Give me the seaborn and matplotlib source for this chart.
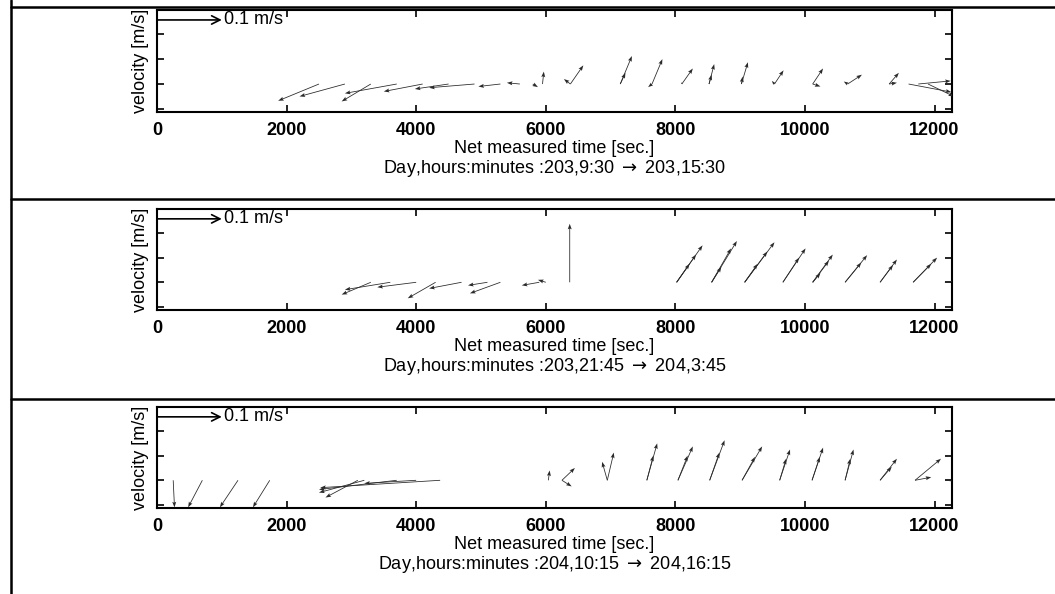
import matplotlib
matplotlib.use("Agg")
import matplotlib.pyplot as plt
from matplotlib.lines import Line2D
import numpy as np
import seaborn as sns

# ---------------- data ----------------
x_ticks = [0, 2000, 4000, 6000, 8000, 10000, 12000]
x_label = "Net measured time [sec.]"
y_label = "velocity [m/s]"
date_ranges = [
    "Day,hours:minutes :203,9:30$\\;\\rightarrow\\;$203,15:30",
    "Day,hours:minutes :203,21:45$\\;\\rightarrow\\;$204,3:45",
    "Day,hours:minutes :204,10:15$\\;\\rightarrow\\;$204,16:15",
]
ref_speed = 0.1          # m/s
ref_label = "0.1 m/s"

# panel 1 : base time [s], u (east) [m/s], v (north) [m/s]
p1_t = [2500, 2900, 3300, 3700, 4100, 4500, 4900, 5300, 5600, 5800, 5950,
        6380, 6380, 7150, 7150, 7640, 7640, 8100, 8100, 8520, 8520,
        9020, 9020, 9530, 9530, 10120, 10120, 10660, 10660, 11300, 11300,
        11600, 11750, 11900]
p1_u = [-0.063, -0.070, -0.045, -0.080, -0.060, -0.052, -0.070, -0.034, -0.020, 0.008, 0.002,
        0.020, -0.010, 0.018, 0.008, 0.016, -0.006, 0.017, 0.000, 0.008, 0.004,
        0.010, 0.002, 0.014, -0.004, 0.016, 0.012, 0.022, -0.006, 0.015, 0.012,
        0.066, 0.050, 0.040]
p1_v = [-0.027, -0.020, -0.028, -0.015, -0.012, -0.008, -0.006, -0.004, 0.002, -0.005, 0.020,
        0.030, 0.008, 0.045, 0.018, 0.040, -0.005, 0.025, 0.003, 0.032, 0.015,
        0.035, 0.012, 0.022, 0.005, 0.025, -0.004, 0.015, 0.004, 0.018, 0.002,
        -0.013, 0.005, -0.020]

# panel 2
p2_t = [3300, 3600, 4000, 4300, 4700, 5100, 5300, 5900, 6000, 6370,
        8020, 8020, 8020, 8560, 8560, 8560, 9070, 9070, 9070, 9660, 9660,
        10120, 10120, 10120, 10620, 10620, 11160, 11160, 11670, 11670, 12160]
p2_u = [-0.045, -0.070, -0.060, -0.043, -0.050, -0.030, -0.047, -0.027, -0.012, 0.000,
        0.040, 0.030, 0.020, 0.039, 0.030, 0.015, 0.046, 0.035, 0.020, 0.035, 0.025,
        0.031, 0.025, 0.012, 0.034, 0.025, 0.026, 0.020, 0.037, 0.028, 0.020]
p2_v = [-0.020, -0.012, -0.008, -0.026, -0.010, -0.005, -0.018, -0.005, 0.004, 0.095,
        0.060, 0.045, 0.030, 0.067, 0.055, 0.025, 0.065, 0.050, 0.030, 0.055, 0.040,
        0.045, 0.035, 0.015, 0.044, 0.032, 0.037, 0.028, 0.040, 0.030, 0.003]

# panel 3
p3_t = [250, 700, 1250, 1740,
        4370, 3700, 3200, 3100, 4000, 6040,
        6250, 6250, 6950, 6950, 7560, 7560, 8040, 8040, 8530, 8530,
        9030, 9030, 9610, 9610, 10110, 10110, 10620, 10620, 11160, 11160,
        11700, 11700, 12190]
p3_u = [0.002, -0.022, -0.028, -0.026,
        -0.185, -0.120, -0.070, -0.050, -0.080, 0.002,
        0.015, 0.020, -0.008, 0.010, 0.016, 0.010, 0.023, 0.015, 0.023, 0.015,
        0.031, 0.020, 0.016, 0.010, 0.017, 0.012, 0.013, 0.008, 0.026, 0.018,
        0.040, 0.025, 0.020]
p3_v = [-0.044, -0.044, -0.044, -0.044,
        -0.012, -0.015, -0.020, -0.028, -0.005, 0.016,
        -0.010, 0.020, 0.030, 0.045, 0.060, 0.040, 0.055, 0.040, 0.065, 0.045,
        0.055, 0.038, 0.050, 0.035, 0.053, 0.038, 0.050, 0.035, 0.035, 0.022,
        0.035, 0.005, -0.003]

panels = [(p1_t, p1_u, p1_v), (p2_t, p2_u, p2_v), (p3_t, p3_u, p3_v)]

# ---------------- style ----------------
sns.set_theme(style="ticks")
plt.rcParams['font.family'] = ['Liberation Sans', 'DejaVu Sans']
plt.rcParams['mathtext.fontset'] = 'dejavusans'
plt.rcParams['axes.linewidth'] = 1.5
plt.rcParams['axes.edgecolor'] = 'black'

SEC_PER_MS = 10000.0      # 0.1 m/s drawn as 1000 s along the time axis
BASE = 0.04               # stick baseline on the velocity axis
REF_Y = 0.143

fig = plt.figure(figsize=(10.55, 5.94), dpi=100)
W, H = 1055.0, 594.0
ax_left, ax_right = 157, 952
boxes = [(10, 112), (209, 310), (407, 508)]

for (t, u, v), (top, bot), date in zip(panels, boxes, date_ranges):
    ax = fig.add_axes([ax_left / W, 1 - bot / H, (ax_right - ax_left) / W, (bot - top) / H])
    ax.set_facecolor('white')
    t = np.asarray(t, float)
    U = np.asarray(u, float) * SEC_PER_MS
    V = np.asarray(v, float)
    ax.quiver(t, np.full_like(t, BASE), U, V, angles='xy', scale_units='xy', scale=1,
              width=0.0010, headwidth=5, headlength=7, headaxislength=6,
              color='#2a2a2a', zorder=3)
    # reference arrow
    ax.annotate("", xy=(ref_speed * SEC_PER_MS, REF_Y), xytext=(0, REF_Y),
                arrowprops=dict(arrowstyle='->', lw=1.2, color='black',
                                mutation_scale=15, shrinkA=0, shrinkB=0))
    ax.text(ref_speed * SEC_PER_MS + 40, REF_Y, ref_label, fontsize=13,
            va='center', ha='left', color='black')
    ax.set_xlim(0, 12270)
    ax.set_ylim(-0.005, 0.159)
    ax.set_xticks(x_ticks)
    ax.set_xticklabels([str(x) for x in x_ticks], fontweight='bold')
    ax.set_yticks([0, 0.04, 0.08, 0.12])
    ax.set_yticklabels([])
    ax.tick_params(direction='in', top=True, right=True, length=5, width=1.2,
                   labelsize=13, pad=7, colors='black')
    ax.set_ylabel(y_label, fontsize=13, labelpad=-1, color='black')
    ax.annotate(x_label, xy=(0.5, 0), xycoords='axes fraction',
                xytext=(0, -26.5), textcoords='offset points',
                ha='center', va='center', fontsize=13, color='black')
    ax.annotate(date, xy=(0.5, 0), xycoords='axes fraction',
                xytext=(0, -40.5), textcoords='offset points',
                ha='center', va='center', fontsize=13, color='black')
    for s in ax.spines.values():
        s.set_visible(True)
        s.set_linewidth(1.5)

# outer frame lines of the scanned page
def fline(x0, y0, x1, y1, lw=1.8):
    fig.add_artist(Line2D([x0 / W, x1 / W], [1 - y0 / H, 1 - y1 / H],
                          transform=fig.transFigure, color='black', lw=lw))

fline(11, 0, 11, 594)
fline(11, 7, 1055, 7)
fline(11, 199, 1055, 199)
fline(11, 399, 1055, 399)

fig.savefig("out.png", dpi=100, facecolor='white')
